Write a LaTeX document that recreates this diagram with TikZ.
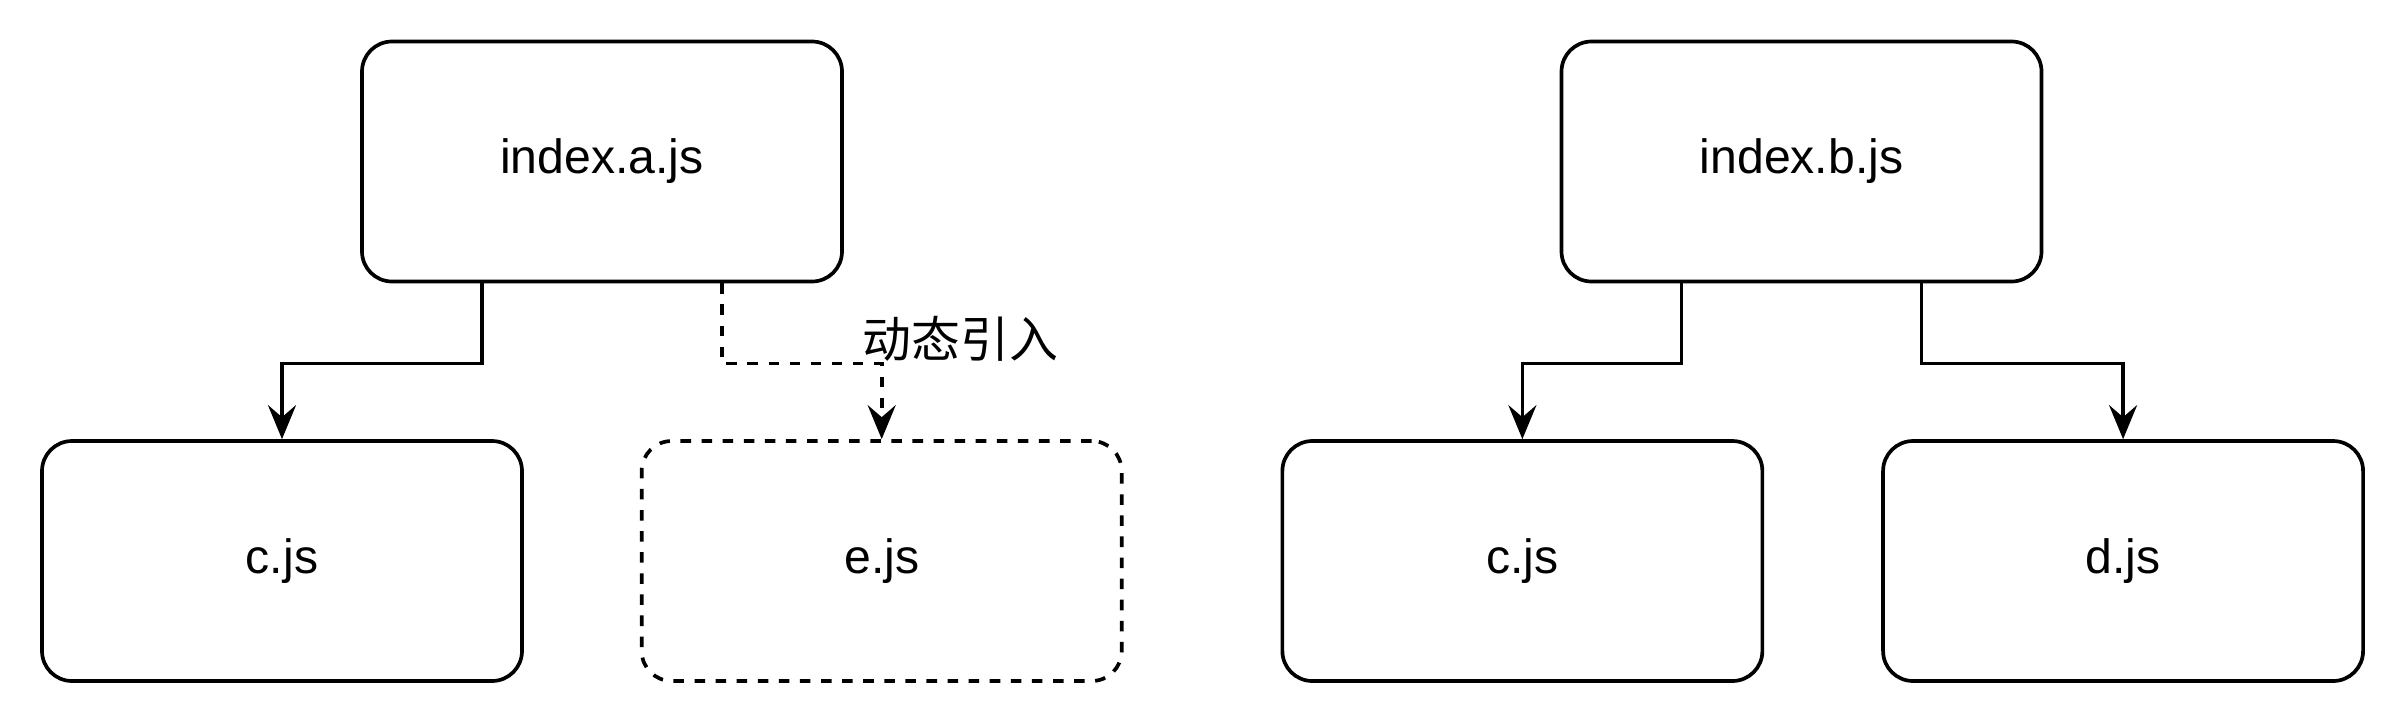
\documentclass[tikz,border=0pt]{standalone}
\usepackage{fontspec}
\setmainfont{Liberation Sans}
\newfontfamily\cjk{Noto Sans CJK SC}
\usetikzlibrary{arrows.meta,positioning}
\tikzset{
  jsbox/.style={draw, rounded corners=0.3cm, line width=1.05pt, minimum width=4.8cm, minimum height=2.4cm, align=center, font=\fontsize{13.7}{16}\selectfont},
  lazybox/.style={jsbox, dash pattern=on 3pt off 3pt},
  arrow/.style={-{Stealth[length=3.4mm, width=2.8mm, inset=1.2mm]}, line width=1.05pt},
  dashedarrow/.style={arrow, dash pattern=on 3pt off 3pt},
  edgelabel/.style={font=\cjk\fontsize{13.9}{16}\selectfont, inner sep=0pt}
}

\begin{document}
\begin{tikzpicture}
  \useasboundingbox (0,0) rectangle (24.04,-7.24);
  \node[jsbox] (idxa) at (6.02,-1.615) {index.a.js};
  \node[jsbox] (idxb) at (18.015,-1.615) {index.b.js};
  \node[jsbox] (ca) at (2.82,-5.61) {c.js};
  \node[lazybox, right=1.16cm of ca] (e) {e.js};
  \node[jsbox, right=1.57cm of e] (cb) {c.js};
  \node[jsbox, right=1.17cm of cb] (d) {d.js};
  \draw[arrow] ([xshift=-1.2cm]idxa.south) -- ++(0,-0.8) -| (ca.north);
  \draw[dashedarrow] ([xshift=1.2cm]idxa.south) -- ++(0,-0.8) -| (e.north)
    node[edgelabel, pos=0.5, xshift=0.785cm, yshift=0.25cm] (dyn) {动态引入};
  \draw[arrow] ([xshift=-1.2cm]idxb.south) -- ++(0,-0.8) -| (cb.north);
  \draw[arrow] ([xshift=1.2cm]idxb.south) -- ++(0,-0.8) -| (d.north);
\end{tikzpicture}
\end{document}
